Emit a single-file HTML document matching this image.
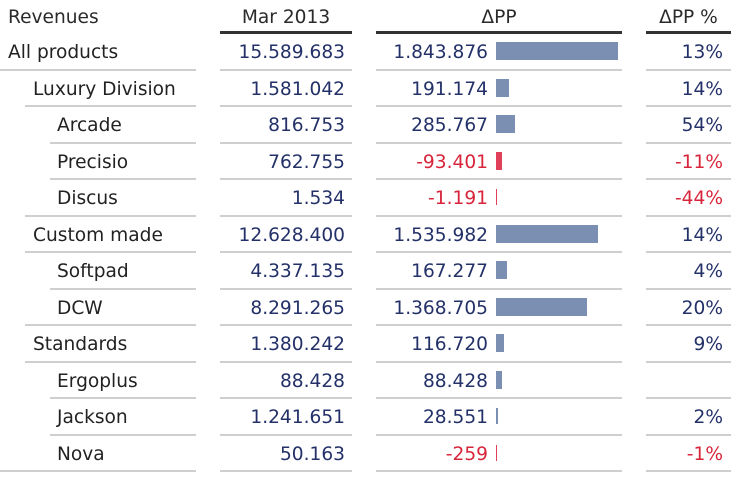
<!DOCTYPE html>
<html><head><meta charset="utf-8"><style>
body{margin:0;width:747px;height:483px;background:#fff;position:relative;overflow:hidden;font-family:"DejaVu Sans","Liberation Sans",sans-serif;font-size:18.6px;color:#233168}
.t{position:absolute;white-space:nowrap;line-height:22px}
.r{text-align:right}
.ln{position:absolute;height:2px;background:#cfcfcf}
.hl{position:absolute;height:3px;background:#333;top:31px}
.bar{position:absolute;height:18px;background:#7b8fb3}
.neg{color:#d8253b}
</style></head><body>
<div class="t" style="left:8px;top:7px;color:#2a2a2a">Revenues</div>
<div class="t" style="left:220px;width:132px;top:7px;text-align:center;color:#2a2a2a">Mar 2013</div>
<div class="t" style="left:376px;width:246px;top:7px;text-align:center;color:#2a2a2a">ΔPP</div>
<div class="t" style="left:646px;width:85px;top:7px;text-align:center;color:#2a2a2a">ΔPP %</div>
<div class="hl" style="left:220px;width:132px"></div>
<div class="hl" style="left:376px;width:246px"></div>
<div class="hl" style="left:646px;width:85px"></div>
<div id="rows"></div>
<script>
var d=[["All products",0,"15.589.683",1843876,"13%",0],
["Luxury Division",1,"1.581.042",191174,"14%",25],
["Arcade",2,"816.753",285767,"54%",50],
["Precisio",2,"762.755",-93401,"-11%",50],
["Discus",2,"1.534",-1191,"-44%",25],
["Custom made",1,"12.628.400",1535982,"14%",25],
["Softpad",2,"4.337.135",167277,"4%",50],
["DCW",2,"8.291.265",1368705,"20%",25],
["Standards",1,"1.380.242",116720,"9%",25],
["Ergoplus",2,"88.428",88428,"",50],
["Jackson",2,"1.241.651",28551,"2%",50],
["Nova",2,"50.163",-259,"-1%",0]];
var h="";
function fmt(v){var s=Math.abs(v).toString().replace(/\B(?=(\d{3})+(?!\d))/g,".");return (v<0?"-":"")+s;}
d.forEach(function(r,i){
var c=51+36.5*i, top=c-9, ly=c+17.5;
var ind=[8,33,57][r[1]];
var neg=r[3]<0?" neg":"";
h+='<div class="t" style="left:'+ind+'px;top:'+top+'px;color:#222">'+r[0]+'</div>';
h+='<div class="t r" style="left:200px;width:145px;top:'+top+'px">'+r[2]+'</div>';
h+='<div class="t r'+neg+'" style="left:376px;width:112px;top:'+top+'px">'+fmt(r[3])+'</div>';
h+='<div class="t r'+neg+'" style="left:646px;width:77px;top:'+top+'px">'+r[4]+'</div>';
var w=Math.max(1,Math.round(Math.abs(r[3])*122/1843876));
h+='<div class="bar" style="left:496px;width:'+w+'px;top:'+(c-9)+'px;'+(r[3]<0?'background:#e0405a':'')+(w<3?';height:16px;top:'+(c-8)+'px':'')+'"></div>';
h+='<div class="ln" style="left:'+r[5]+'px;width:'+(196-r[5])+'px;top:'+ly+'px"></div>';
h+='<div class="ln" style="left:220px;width:132px;top:'+ly+'px"></div>';
h+='<div class="ln" style="left:376px;width:246px;top:'+ly+'px"></div>';
h+='<div class="ln" style="left:646px;width:85px;top:'+ly+'px"></div>';
});
document.getElementById("rows").innerHTML=h;
</script>
</body></html>
